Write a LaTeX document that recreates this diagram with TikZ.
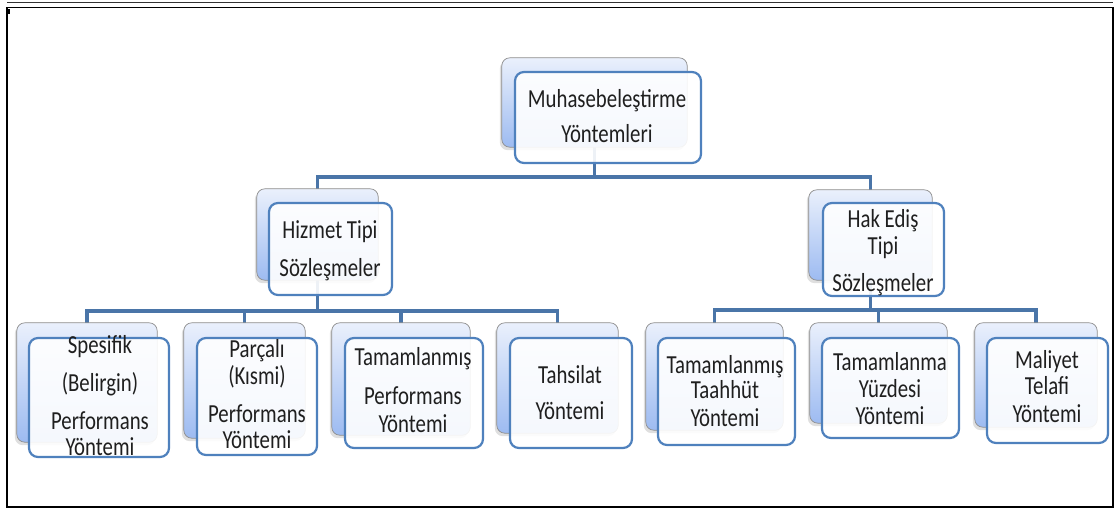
\documentclass[tikz,border=0pt]{standalone}
\usepackage{fontspec}
\setmainfont{Carlito}[FakeStretch=0.80]
\usetikzlibrary{fit,shadows}
\definecolor{connblue}{HTML}{4A75A8}
\definecolor{frontblue}{HTML}{4F81BD}
\definecolor{backtop}{HTML}{EAF0FC}
\definecolor{backbot}{HTML}{9DBBF1}
\tikzset{
  backbox/.style={draw=black!45, line width=0.7pt, rounded corners=8pt, inner sep=0pt,
    top color=backtop, bottom color=backbot,
    drop shadow={shadow xshift=-2pt, shadow yshift=-3pt, opacity=0.25}},
  frontbox/.style={draw=frontblue, line width=2.2pt, rounded corners=9pt, inner sep=0pt,
    fill=white, fill opacity=0.9},
  conn/.style={draw=connblue, line width=3.6pt},
  lbl/.style={anchor=base, inner sep=0pt, font=\fontsize{26}{30}\selectfont, text=black!88},
}
\newcommand\mylines[3]{\foreach \lyy/\ltxt [count=\k] in {#3} {\node[lbl, name=#1-\k] at (#2,\lyy) {\ltxt};}}
\begin{document}
\begin{tikzpicture}[x=1pt,y=-1pt]
\useasboundingbox (0,0) rectangle (1115,508);
% frame
\draw[line width=1.4pt, black!80] (7,2.5) -- (1113,2.5);
\draw[line width=1.6pt] (7,7.5) rectangle (1113,507);
\fill (8,9) rectangle (10,14);
% level coordinates
\coordinate (lv1) at (0,177);
\coordinate (lv2) at (0,311);
\coordinate (lv3) at (0,310);
% back box anchors (invisible first pass for connectors)
\path
  node[inner sep=0pt, fit={(502,58) (687,147)}] (topB) {}
  node[inner sep=0pt, fit={(257,189) (378,280)}] (hizB) {}
  node[inner sep=0pt, fit={(809,190) (932,280)}] (hakB) {}
  node[inner sep=0pt, fit={(17,323) (157,442)}] (spesB) {}
  node[inner sep=0pt, fit={(184,323) (305,438)}] (parB) {}
  node[inner sep=0pt, fit={(332,323) (470,435)}] (tampB) {}
  node[inner sep=0pt, fit={(497,323) (618,433)}] (tahsB) {}
  node[inner sep=0pt, fit={(646,323) (783,430)}] (taahB) {}
  node[inner sep=0pt, fit={(810,323) (947,423)}] (yuzB) {}
  node[inner sep=0pt, fit={(975,323) (1097,427)}] (malB) {};
% connectors
\draw[conn] (topB.south) -- (topB.south |- lv1) -| (hizB.north);
\draw[conn] (topB.south |- lv1) -| (hakB.north);
\draw[conn] (hizB.south) -- (hizB.south |- lv2) -| (spesB.north);
\draw[conn] (hizB.south |- lv2) -| (parB.north);
\draw[conn] (hizB.south |- lv2) -| (tampB.north);
\draw[conn] (hizB.south |- lv2) -| (tahsB.north);
\draw[conn] (hakB.south) -- (hakB.south |- lv3) -| (taahB.north);
\draw[conn] (hakB.south |- lv3) -| (yuzB.north);
\draw[conn] (hakB.south |- lv3) -| (malB.north);
% back boxes
\foreach \n in {topB,hizB,hakB,spesB,parB,tampB,tahsB,taahB,yuzB,malB}
  \path[backbox] (\n.south west) rectangle (\n.north east);
% front boxes
\node[frontbox, fit={(515,72) (701,163)}] (topF) {};
\node[frontbox, fit={(269,203) (392,295)}] (hizF) {};
\node[frontbox, fit={(823,203) (944,296)}] (hakF) {};
\node[frontbox, fit={(29,338) (169,457)}] (spesF) {};
\node[frontbox, fit={(197,338) (317,455)}] (parF) {};
\node[frontbox, fit={(345,338) (483,448)}] (tampF) {};
\node[frontbox, fit={(510,338) (632,448)}] (tahsF) {};
\node[frontbox, fit={(658,338) (795,445)}] (taahF) {};
\node[frontbox, fit={(822,338) (959,438)}] (yuzF) {};
\node[frontbox, fit={(987,338) (1108,443)}] (malF) {};
% texts
\mylines{topT}{607}{107/Muhasebeleştirme, 142/Yöntemleri}
\mylines{hizT}{330}{238/{Hizmet Tipi}, 276/Sözleşmeler}
\mylines{hakT}{883}{227/{Hak Ediş}, 254/Tipi, 291/Sözleşmeler}
\mylines{spesT}{100}{353/Spesifik, 391/{(Belirgin)}, 429/Performans, 455/Yöntemi}
\mylines{parT}{257}{357/Parçalı, 384/{(Kısmi)}, 422/Performans, 448/Yöntemi}
\mylines{tampT}{413}{365/Tamamlanmış, 404/Performans, 432/Yöntemi}
\mylines{tahsT}{570}{383/Tahsilat, 419/Yöntemi}
\mylines{taahT}{725}{373/Tamamlanmış, 398/Taahhüt, 426/Yöntemi}
\mylines{yuzT}{890}{370/Tamamlanma, 397/Yüzdesi, 424/Yöntemi}
\mylines{malT}{1047}{368/Maliyet, 394/Telafi, 422/Yöntemi}
\end{tikzpicture}
\end{document}
